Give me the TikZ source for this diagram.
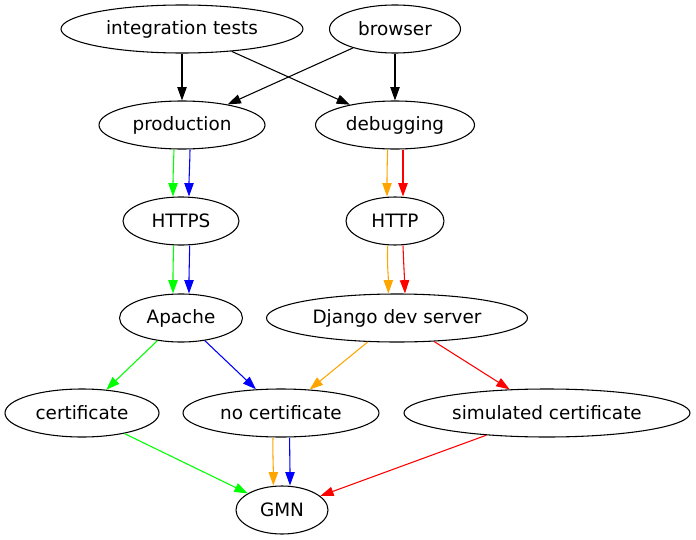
\documentclass[tikz,border=0pt]{standalone}
\usepackage{fontspec}
\setmainfont{DejaVu Sans}
\usetikzlibrary{shapes.geometric,arrows.meta}
\definecolor{gvgreen}{RGB}{0,255,0}
\definecolor{gvblue}{RGB}{0,0,255}
\definecolor{gvred}{RGB}{255,0,0}
\definecolor{gvorange}{RGB}{255,165,0}
\begin{document}
\begin{tikzpicture}[x=0.75pt,y=-0.75pt,
  nd/.style={draw,ellipse,inner sep=0pt,minimum height=36pt,line width=0.8pt,font=\fontsize{13.8pt}{16pt}\selectfont},
  ed/.style={line width=0.8pt,-{Triangle[length=10pt,width=7pt]}}]
\useasboundingbox (0,0) rectangle (696,539);
\node[nd,minimum width=181.5pt] (it) at (182,29) {integration tests};
\node[nd,minimum width=98.25pt] (br) at (395,29) {browser};
\node[nd,minimum width=124.5pt] (prod) at (182,125) {production};
\node[nd,minimum width=119.25pt] (dbg) at (395,125) {debugging};
\node[nd,minimum width=87pt] (https) at (181,221) {HTTPS};
\node[nd,minimum width=73.5pt] (http) at (395,221) {HTTP};
\node[nd,minimum width=92.25pt] (apache) at (181,318) {Apache};
\node[nd,minimum width=195.75pt] (django) at (397,318) {Django dev server};
\node[nd,minimum width=115.5pt] (cert) at (82,413) {certificate};
\node[nd,minimum width=147pt] (nocert) at (281,413) {no certificate};
\node[nd,minimum width=214.5pt] (sim) at (547,413) {simulated certificate};
\node[nd,minimum width=69pt] (gmn) at (282,510) {GMN};
% black edges
\draw[ed] (it.south) -- (prod.north);
\draw[ed] (it) -- (dbg);
\draw[ed] (br) -- (prod);
\draw[ed] (br.south) -- (dbg.north);
% production -> HTTPS
\draw[ed,gvgreen] ([xshift=-6pt]prod.south) to[out=-92,in=90] ([xshift=-6pt]https.north);
\draw[ed,gvblue] ([xshift=6pt]prod.south) to[out=-91,in=90] ([xshift=6pt]https.north);
% HTTPS -> Apache
\draw[ed,gvgreen] ([xshift=-5.5pt]https.south) to[out=-92,in=90] ([xshift=-6pt]apache.north);
\draw[ed,gvblue] ([xshift=6.5pt]https.south) to[out=-91,in=90] ([xshift=6pt]apache.north);
% debugging -> HTTP
\draw[ed,gvorange] ([xshift=-5.5pt]dbg.south) to[out=-92,in=90] ([xshift=-6pt]http.north);
\draw[ed,gvred] ([xshift=6pt]dbg.south) -- ([xshift=6pt]http.north);
% HTTP -> Django
\draw[ed,gvorange] ([xshift=-5.5pt]http.south) to[out=-92,in=90] ([xshift=-6.5pt]django.north);
\draw[ed,gvred] ([xshift=6pt]http.south) to[out=-88,in=92] ([xshift=6pt]django.north);
% Apache / Django -> certificates
\draw[ed,gvgreen] (apache) -- (cert);
\draw[ed,gvblue] (apache) -- (nocert);
\draw[ed,gvorange] (django) -- (nocert);
\draw[ed,gvred] (django) -- (sim);
% -> GMN
\draw[ed,gvgreen] (cert) -- (gmn);
\draw[ed,gvred] (sim) -- (gmn);
\draw[ed,gvorange] ([xshift=-6pt]nocert.south) to[out=-91,in=90] ([xshift=-6.5pt]gmn.north);
\draw[ed,gvblue] ([xshift=6.5pt]nocert.south) to[out=-90,in=90] ([xshift=6pt]gmn.north);
\end{tikzpicture}
\end{document}
